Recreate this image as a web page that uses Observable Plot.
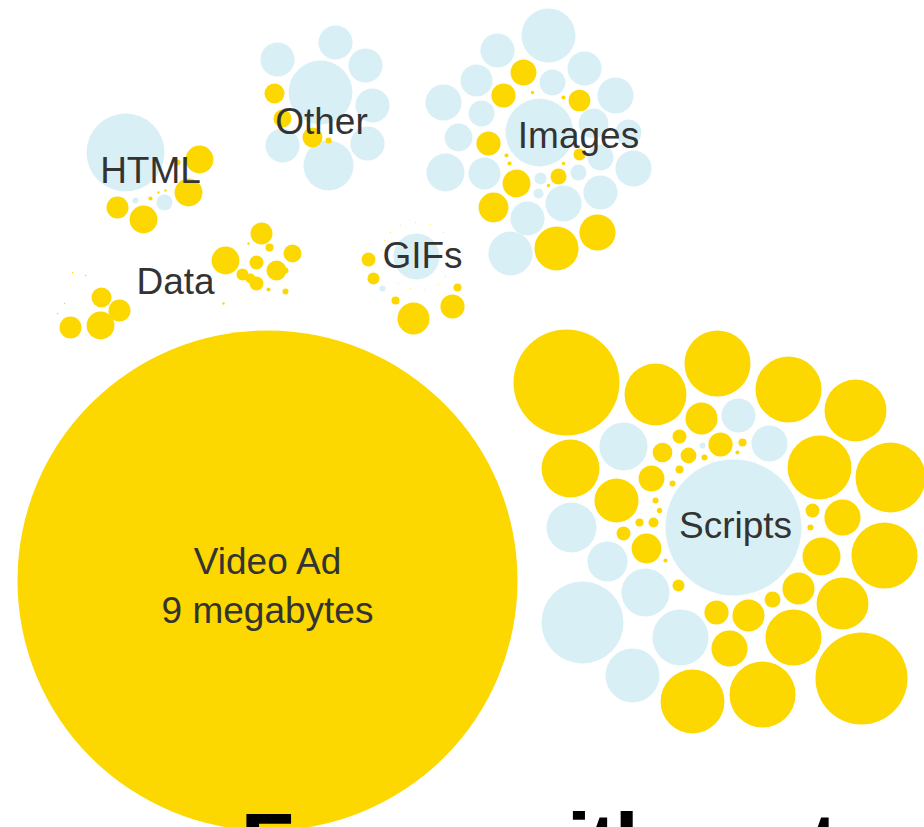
<!DOCTYPE html>
<html>
<head>
<meta charset="utf-8">
<script src="https://cdn.jsdelivr.net/npm/d3@7"></script>
<script src="https://cdn.jsdelivr.net/npm/@observablehq/plot@0.6"></script>
<style>
  html, body { margin: 0; padding: 0; background: #fff; overflow: hidden; }
  #chart svg { display: block; }
</style>
</head>
<body>
<div id="chart"></div>
<script>
// Each bubble: [x, y, kilobytes] — x/y, size in KB (area ∝ KB; the 9 MB video ad is the reference)
const videoAd = [[267, 580, 9000]];

const scriptsContent = [[733,527,666],[738,415,42],[769,443,47],[623,446,83],[571,527,90],[607,561,58],[645,592,83],[582,622,242],[680,637,113],[632,675,105],[702,445,1.3]];
const scriptsAds = [[566,382,404],[655,394,138],[717,363,157],[788,389,157],[855,410,138],[890,477,176],[819,467,147],[570,468,121],[616,500,70],[701,418,37],[720,444,21],[662,452,14],[679,436,7],[688,455,9],[651,478,24],[679,469,2.3],[742,442,2.3],[704,457,1.3],[737,452,0.6],[672,483,1.3],[655,500,1.3],[659,510,1],[653,522,3.6],[639,522,2.3],[623,533,7],[646,548,32],[665,560,0.6],[678,585,5.2],[812,510,7],[810,527,1.3],[842,517,47],[821,556,52],[884,555,157],[798,588,37],[772,599,9.2],[842,603,97],[748,615,37],[716,612,21],[793,637,113],[729,648,47],[861,678,305],[762,694,157],[692,701,147]];

const imagesContent = [[539,132,166],[548,35,105],[497,50,42],[584,68,42],[552,82,24],[476,80,37],[615,95,47],[443,102,47],[481,113,24],[593,123,32],[628,132,24],[458,137,28],[445,172,52],[484,173,37],[633,168,47],[600,157,24],[578,172,9.2],[540,178,5.2],[538,193,3.6],[600,192,42],[563,203,47],[527,218,42],[510,253,70]];
const imagesAds = [[523,72,24],[503,95,21],[579,100,17],[488,143,21],[579,154,5.2],[558,176,9.2],[516,183,28],[493,207,32],[556,248,70],[597,232,47],[506,155,0.6],[509,163,0.6],[563,97,0.6],[532,92,0.4],[548,185,0.4],[563,163,0.4]];

const gifsContent = [[416,256,76],[382,288,1.3]];
const gifsAds = [[368,259,7],[373,278,5.2],[395,300,2.3],[413,318,37],[452,306,21],[457,287,2.3]];
const gifsTiny = [[390,232],[400,225],[415,222],[430,224],[443,232],[449,246],[450,262],[445,276],[384,240],[381,250],[398,283],[410,288],[425,289],[438,284]];

const otherContent = [[320,92,147],[335,42,42],[277,59,42],[365,65,42],[372,105,42],[367,143,42],[282,145,42],[328,165,90]];
const otherAds = [[274,93,14.4],[282,118,11.7],[312,137,14.4],[328,140,1.3]];

const htmlContent = [[125,152,219],[164,202,9.2],[135,200,1.3]];
const htmlAds = [[199,159,28],[188,192,28],[117,207,17.4],[143,219,28],[150,198,0.6],[158,192,0.2],[165,190,0.2],[177,162,1.3]];

const dataAds = [[70,327,17.4],[100,325,28],[101,297,14.4],[119,310,17.4],[72,272,0.1],[85,275,0.1],[57,313,0.1],[64,303,0.1],[225,260,28],[261,233,17.4],[269,247,2.3],[256,262,7],[292,253,11.7],[276,270,14.4],[285,270,1.3],[242,274,5.2],[256,283,7],[250,278,3.6],[285,291,1.3],[268,289,0.6],[248,243,0.2],[223,303,0.2]];

const labels = [
  {text: "HTML", x: 150, y: 182},
  {text: "Other", x: 321, y: 133},
  {text: "Images", x: 578, y: 147},
  {text: "GIFs", x: 422, y: 267},
  {text: "Data", x: 175, y: 293},
  {text: "Scripts", x: 735, y: 537},
  {text: "Video Ad", x: 267, y: 573},
  {text: "9 megabytes", x: 267, y: 622}
];
// The next heading on the page, cut off by the bottom edge in the reference
const heading = [{text: "Fewer with no terms", x: 240, y: 873}];

const YELLOW = "#fcd700";
const BLUE = "#d8f0f5";

const rows = (arr, kind) => arr.map(([x, y, kb]) => ({x, y, kb, kind}));
const bubbles = [
  ...rows(videoAd, "ad"),
  ...rows(scriptsContent, "content"), ...rows(scriptsAds, "ad"),
  ...rows(imagesContent, "content"), ...rows(imagesAds, "ad"),
  ...rows(gifsContent, "content"), ...rows(gifsAds, "ad"),
  ...rows(otherContent, "content"), ...rows(otherAds, "ad"),
  ...rows(htmlContent, "content"), ...rows(htmlAds, "ad"),
  ...rows(dataAds, "ad")
];
const tiny = gifsTiny.map(([x, y]) => ({x, y, kb: 0.06, kind: "ad"}));

const chart = Plot.plot({
  width: 924,
  height: 827,
  margin: 0,
  style: {background: "#fff"},
  x: {domain: [0, 924], range: [0, 924], axis: null},
  y: {domain: [0, 827], range: [0, 827], axis: null},
  r: {type: "sqrt", domain: [0, 9000], range: [0, 250]},
  color: {domain: ["ad", "content"], range: [YELLOW, BLUE]},
  marks: [
    Plot.dot(bubbles, {x: "x", y: "y", r: "kb", fill: "kind"}),
    Plot.dot(tiny, {x: "x", y: "y", r: "kb", fill: "kind", fillOpacity: 0.5}),
    Plot.text(labels, {x: "x", y: "y", text: "text", textAnchor: "middle", lineAnchor: "bottom",
      fontSize: 37, fontFamily: "Liberation Sans, Arial, sans-serif", fill: "#333"}),
    Plot.text(heading, {x: "x", y: "y", text: "text", textAnchor: "start", lineAnchor: "bottom",
      fontSize: 88, fontWeight: "bold", fontFamily: "Liberation Sans, Arial, sans-serif", fill: "#000"})
  ]
});
const textGroups = chart.querySelectorAll('g[aria-label="text"]');
if (textGroups.length) textGroups[textGroups.length - 1].style.letterSpacing = "-3px";
document.getElementById("chart").appendChild(chart);
</script>
</body>
</html>
